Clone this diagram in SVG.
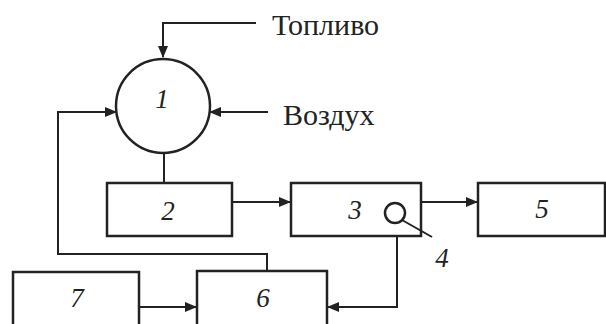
<svg xmlns="http://www.w3.org/2000/svg" width="606" height="324" viewBox="0 0 606 324">
<defs>
<marker id="ah" markerWidth="12" markerHeight="10" refX="11" refY="5" orient="auto" markerUnits="userSpaceOnUse">
<path d="M0,0 L12,5 L0,10 Z" fill="#222"/>
</marker>
<style>
.box{fill:#fff;stroke:#222;stroke-width:2.5}
.ln{fill:none;stroke:#222;stroke-width:2}
.num{font-family:"Liberation Serif",serif;font-style:italic;font-size:27px;fill:#222;text-anchor:middle}
.lbl{font-family:"Liberation Serif",serif;font-size:30px;fill:#222}
</style>
</defs>
<rect width="606" height="324" fill="#fff"/>
<g id="connectors">
<path class="ln" d="M256,23 H163 V57" marker-end="url(#ah)"/>
<path class="ln" d="M268,112 H210" marker-end="url(#ah)"/>
<path class="ln" d="M267,271 V254 H58 V112 H116" marker-end="url(#ah)"/>
<path class="ln" d="M164,153 V183"/>
<path class="ln" d="M232,202 H290" marker-end="url(#ah)"/>
<path class="ln" d="M421,202 H477" marker-end="url(#ah)"/>
<path class="ln" d="M397,223 V307 H328" marker-end="url(#ah)"/>
<path class="ln" d="M139,307 H196" marker-end="url(#ah)"/>
</g>
<g id="node1">
<circle cx="163" cy="106" r="47" fill="#fff" stroke="#222" stroke-width="2.5"/>
<text class="num" x="162" y="108">1</text>
</g>
<g id="fuel"><text class="lbl" x="272" y="35">Топливо</text></g>
<g id="air"><text class="lbl" x="283" y="125">Воздух</text></g>
<g id="node2">
<rect class="box" x="107" y="183" width="125" height="53"/>
<text class="num" x="168" y="220">2</text>
</g>
<g id="node3">
<rect class="box" x="291" y="183" width="130" height="53"/>
<text class="num" x="355" y="219">3</text>
</g>
<g id="node4">
<circle cx="395" cy="213" r="10" fill="#fff" stroke="#222" stroke-width="2.5"/>
<path class="ln" d="M402,220 L432,237"/>
<text class="num" x="442" y="267">4</text>
</g>
<g id="node5">
<rect class="box" x="478" y="183" width="127" height="53"/>
<text class="num" x="542" y="218">5</text>
</g>
<g id="node6">
<rect class="box" x="197" y="271" width="130" height="60"/>
<text class="num" x="263" y="307">6</text>
</g>
<g id="node7">
<rect class="box" x="13" y="272" width="126" height="60"/>
<text class="num" x="77" y="307">7</text>
</g>
</svg>
